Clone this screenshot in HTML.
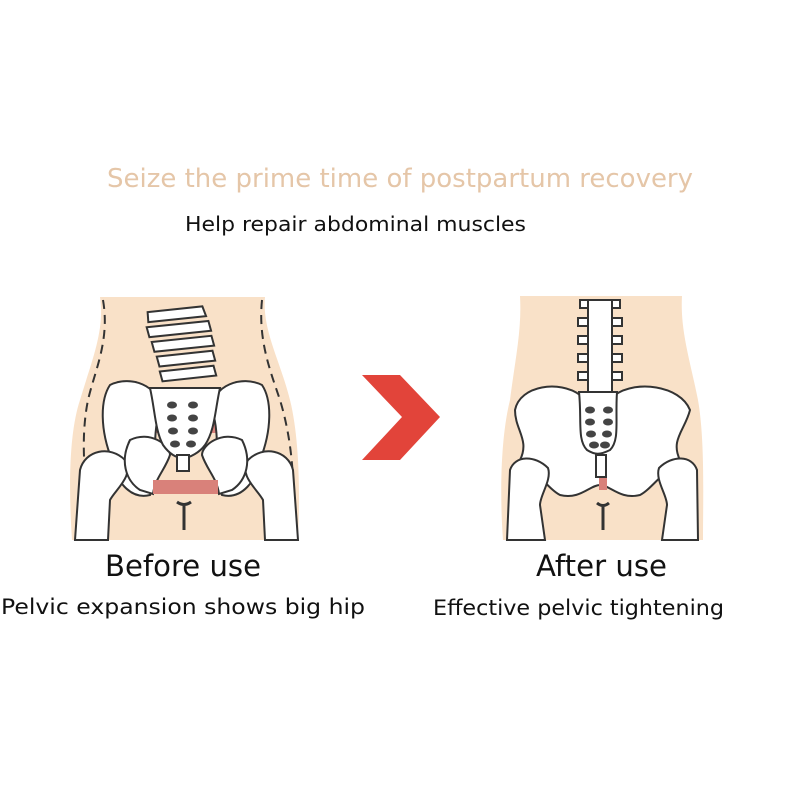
<!DOCTYPE html><html><head><style>body{margin:0;background:#fff}svg{display:block}text{font-family:"DejaVu Sans","Liberation Sans",sans-serif}</style></head><body>
<svg width="800" height="800" viewBox="0 0 800 800">
<text x="107" y="187" font-size="26" fill="#e5c6a8" textLength="586" lengthAdjust="spacingAndGlyphs">Seize the prime time of postpartum recovery</text>
<text x="185" y="231" font-size="20" fill="#111" textLength="341" lengthAdjust="spacingAndGlyphs">Help repair abdominal muscles</text>
<g stroke="#333" stroke-width="2">
<path d="M100,297 L265,297 C262,330 280,360 290,400 C300,440 300,500 298,540 L72,540 C68,480 70,430 80,400 C92,360 105,330 100,297 Z" fill="#f9e1c8" stroke="none"/>
<path d="M103,300 C110,340 95,370 88,400 C80,440 85,480 90,520" fill="none" stroke-dasharray="9,6"/>
<path d="M262,300 C258,340 270,370 280,400 C292,440 295,480 293,530" fill="none" stroke-dasharray="9,6"/>
<rect x="150" y="395" width="16" height="38" fill="#d9817a" stroke="none"/>
<rect x="205" y="395" width="16" height="38" fill="#d9817a" stroke="none"/>
<g fill="#fff">
<path d="M110,385 C130,375 160,385 160,410 C150,440 160,470 150,495 C130,500 115,480 112,460 C100,430 100,400 110,385Z"/>
<path d="M262,385 C242,375 212,385 212,410 C222,440 212,470 222,495 C242,500 257,480 260,460 C272,430 272,400 262,385Z"/>
<path d="M75,540 L80,470 C85,450 110,445 125,460 C135,475 115,490 110,500 L108,540Z"/>
<path d="M298,540 L293,470 C288,450 263,445 248,460 C238,475 258,490 263,500 L265,540Z"/>
<path d="M130,440 C150,430 170,445 170,455 C165,470 155,478 153,494 L140,490 C125,480 120,460 130,440Z"/>
<path d="M242,440 C222,430 202,445 202,455 C207,470 217,478 219,494 L232,490 C247,480 252,460 242,440Z"/>
<path d="M150,388 L220,388 C215,410 215,430 205,445 C200,452 190,458 183,458 C175,458 168,452 163,445 C155,430 155,410 150,388Z"/>
<rect x="177" y="455" width="12" height="16"/>
<g transform="rotate(-4 180 345)">
<path d="M150,310 L205,308 L208,318 L150,320Z"/><path d="M148,325 L210,323 L212,333 L150,335Z"/><path d="M152,340 L212,338 L214,348 L154,350Z"/><path d="M156,355 L212,353 L214,363 L158,365Z"/><path d="M158,370 L212,368 L214,378 L160,380Z"/>
</g></g>
<rect x="153" y="480" width="65" height="14" fill="#d9817a" stroke="none"/>
<g fill="#444" stroke="none"><ellipse cx="172" cy="405" rx="5" ry="3.5"/><ellipse cx="193" cy="405" rx="5" ry="3.5"/><ellipse cx="172" cy="418" rx="5" ry="3.5"/><ellipse cx="193" cy="418" rx="5" ry="3.5"/><ellipse cx="173" cy="431" rx="5" ry="3.5"/><ellipse cx="193" cy="431" rx="5" ry="3.5"/><ellipse cx="175" cy="444" rx="5" ry="3.5"/><ellipse cx="191" cy="444" rx="5" ry="3.5"/></g>
<path d="M177,502 Q184,507 191,502 M184,505 L184,530" fill="none" stroke-width="3"/>
<path d="M520,296 L682,296 C680,330 690,360 698,400 C705,440 703,500 703,540 L503,540 C500,500 500,440 510,400 C515,360 522,330 520,296Z" fill="#f9e1c8" stroke="none"/>
<g fill="#fff">
<path d="M515,410 C520,385 560,380 580,395 L615,395 C635,380 680,385 690,410 C685,430 670,440 680,460 C660,475 650,490 640,495 C620,500 610,485 600,485 C590,485 580,500 560,495 C550,490 540,475 520,460 C530,440 515,430 515,410Z"/>
<path d="M507,540 L510,470 C515,455 535,455 548,468 C552,480 540,495 540,505 L545,540Z"/>
<path d="M698,540 L697,470 C692,455 672,455 659,468 C655,480 667,495 667,505 L662,540Z"/>
<path d="M579,392 L617,392 C615,420 620,440 610,450 C600,455 595,455 587,450 C577,440 582,420 579,392Z"/>
<rect x="596" y="455" width="10" height="22"/>
<path d="M580,300 L620,300 L620,308 L580,308Z"/><path d="M578,318 L622,318 L622,326 L578,326Z"/><path d="M578,336 L622,336 L622,344 L578,344Z"/><path d="M578,354 L622,354 L622,362 L578,362Z"/><path d="M578,372 L622,372 L622,380 L578,380Z"/>
<rect x="588" y="300" width="24" height="92"/>
</g>
<rect x="599" y="478" width="8" height="12" fill="#d9817a" stroke="none"/>
<g fill="#444" stroke="none"><ellipse cx="590" cy="410" rx="5" ry="3.5"/><ellipse cx="608" cy="410" rx="5" ry="3.5"/><ellipse cx="590" cy="422" rx="5" ry="3.5"/><ellipse cx="608" cy="422" rx="5" ry="3.5"/><ellipse cx="591" cy="434" rx="5" ry="3.5"/><ellipse cx="607" cy="434" rx="5" ry="3.5"/><ellipse cx="594" cy="445" rx="5" ry="3.5"/><ellipse cx="605" cy="445" rx="5" ry="3.5"/></g>
<path d="M597,503 Q603,508 609,503 M603,506 L603,530" fill="none" stroke-width="3"/>
</g>
<polygon points="362,375 400,375 440,417 400,460 362,460 402,417" fill="#e2443a"/>
<text x="105" y="576" font-size="29" fill="#111" textLength="156" lengthAdjust="spacingAndGlyphs">Before use</text>
<text x="1" y="614" font-size="21" fill="#111" textLength="364" lengthAdjust="spacingAndGlyphs">Pelvic expansion shows big hip</text>
<text x="536" y="576" font-size="29" fill="#111" textLength="131" lengthAdjust="spacingAndGlyphs">After use</text>
<text x="433" y="615" font-size="21" fill="#111" textLength="291" lengthAdjust="spacingAndGlyphs">Effective pelvic tightening</text>
</svg></body></html>
